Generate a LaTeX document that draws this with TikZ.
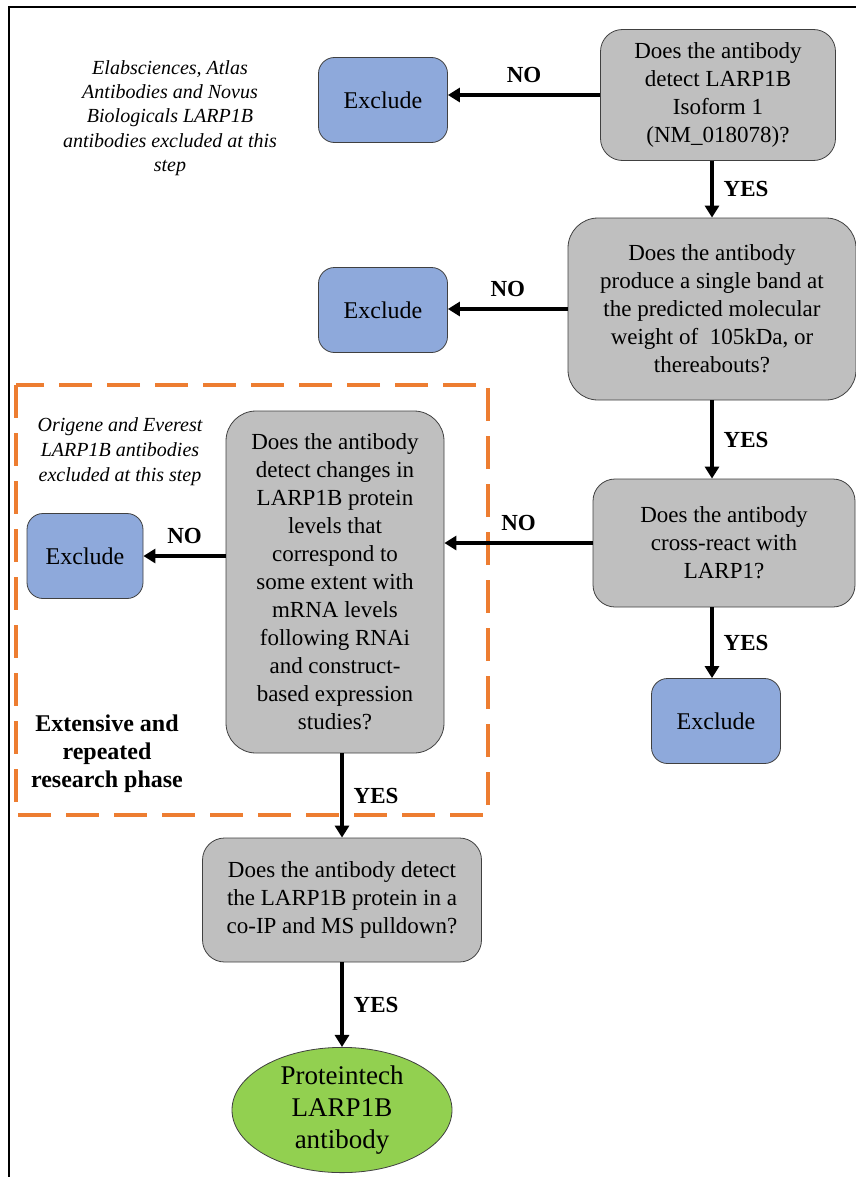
\documentclass[tikz,border=0pt]{standalone}
\usepackage{fontspec}
\setmainfont{Liberation Serif}
\usetikzlibrary{arrows.meta,shapes.geometric}
\definecolor{qgray}{HTML}{BFBFBF}
\definecolor{exblue}{HTML}{8EA9DB}
\definecolor{okgreen}{HTML}{92D050}
\definecolor{phaseorange}{HTML}{ED7D31}

\begin{document}
\begin{tikzpicture}[x=0.5pt,y=-0.5pt,
  question/.style={draw=black!75,fill=qgray,rounded corners=11pt,align=center,inner sep=2pt,font=\fontsize{11.5}{14}\selectfont},
  exclude/.style={draw=black!75,fill=exblue,rounded corners=8pt,minimum width=64.5pt,minimum height=42.5pt,font=\fontsize{12}{14}\selectfont},
  note/.style={align=center,font=\itshape\fontsize{10}{12.2}\selectfont},
  answer/.style={font=\bfseries\fontsize{11.5}{14}\selectfont},
  arr/.style={-{Triangle[length=6pt,width=7pt]},line width=2pt}]
    \useasboundingbox (0,0) rectangle (856,1177);
    \draw[line width=1pt] (9,1177) -- (9,7) -- (856,7);
    % research phase frame
    \draw[phaseorange,line width=2pt,dash pattern=on 16.5pt off 7.5pt] (16,385) rectangle (488,815);

    \node[question,minimum width=117.5pt,minimum height=65.5pt] (q1) at (718,95) {Does the antibody\\detect LARP1B\\Isoform 1\\(NM\_018078)?};
    \node[question,rounded corners=15pt,minimum width=144pt,minimum height=91pt] (q2) at (712,309) {Does the antibody\\produce a single band at\\the predicted molecular\\weight of ~105kDa, or\\thereabouts?};
    \node[question,minimum width=131pt,minimum height=64pt] (q3) at (724,543) {Does the antibody\\cross-react with\\LARP1?};
    \node[question,rounded corners=15pt,minimum width=109pt,minimum height=171pt] (q4) at (335,582) {Does the antibody\\detect changes in\\LARP1B protein\\levels that\\correspond to\\some extent with\\mRNA levels\\following RNAi\\and construct-\\based expression\\studies?};
    \node[question,minimum width=139.5pt,minimum height=62pt] (q5) at (342,900) {Does the antibody detect\\the LARP1B protein in a\\co-IP and MS pulldown?};
    \node[ellipse,draw=black!75,fill=okgreen,inner sep=0pt,minimum width=110pt,minimum height=62pt,align=center,font=\fontsize{13.5}{16}\selectfont] (fin) at (342,1110) {Proteintech\\LARP1B\\antibody};

    \node[exclude] (ex1) at (383,100) {Exclude};
    \node[exclude] (ex2) at (383,310) {Exclude};
    \node[exclude] (ex3) at (716,721) {Exclude};
    \node[exclude,minimum width=58pt] (ex4) at (85,556) {Exclude};

    \node[note] (elab) at (170,118) {Elabsciences, Atlas\\Antibodies and Novus\\Biologicals LARP1B\\antibodies excluded at this\\step};
    \node[note,font=\itshape\fontsize{10}{12.5}\selectfont] (orig) at (120,452) {Origene and Everest\\LARP1B antibodies\\excluded at this step};
    \node[align=center,font=\bfseries\fontsize{12}{14}\selectfont] (phase) at (107,754) {Extensive and\\repeated\\research phase};

  \foreach \from/\to in {{q2.north |- q1.south}/q2.north,q2.south/{q2.south |- q3.north},{q2.south |- q3.south}/{q2.south |- ex3.north},{q5.north |- q4.south}/q5.north,q5.south/fin.north}
    \draw[arr] (\from) -- node[answer,right=1.5pt] {YES} (\to);
  \foreach \from/\to in {q1.west/{q1.west -| ex1.east},q2.west/{q2.west -| ex2.east},q3.west/{q3.west -| q4.east},{ex4.east -| q4.west}/ex4.east}
    \draw[arr] (\from) -- node[answer,above=2pt] {NO} (\to);
\end{tikzpicture}
\end{document}
